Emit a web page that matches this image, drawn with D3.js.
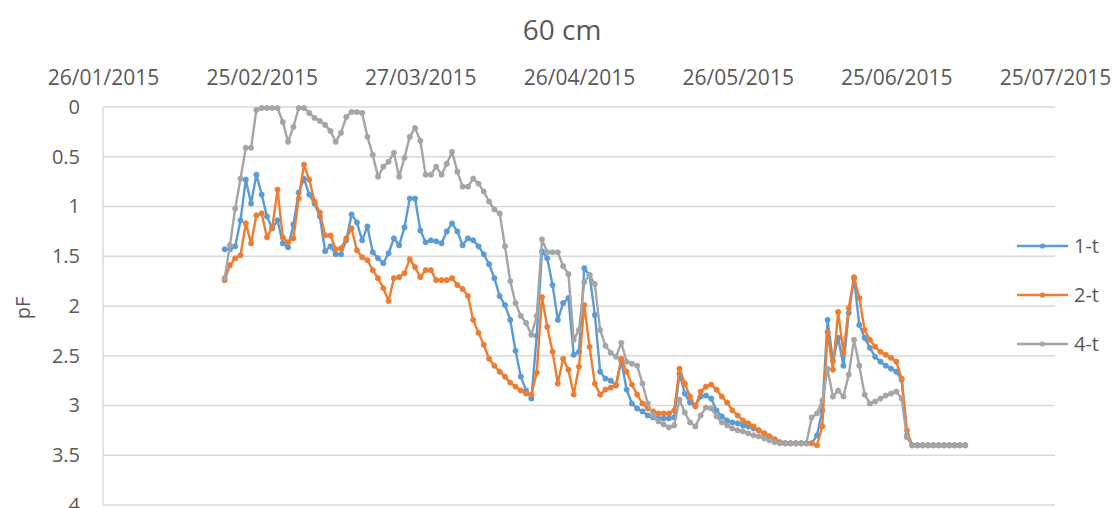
<!DOCTYPE html>
<html>
<head>
<meta charset="utf-8">
<script src="https://cdn.jsdelivr.net/npm/d3@7"></script>
<style>
  html, body { margin: 0; padding: 0; background: #ffffff; }
  svg { display: block; }
  text { font-family: "Open Sans", "Liberation Sans", sans-serif; fill: #595959; }
</style>
</head>
<body>
<svg id="chart" width="1118" height="508"></svg>
<script>
// pF readings at 60 cm depth, one reading per day from the first date below
const firstDay = "18/02/2015";

const series1t = [
  1.43, 1.43, 1.40, 1.14, 0.73, 0.97, 0.68, 0.88, 1.10, 1.22,
  1.14, 1.37, 1.41, 1.18, 0.86, 0.72, 0.88, 0.97, 1.10, 1.45,
  1.40, 1.48, 1.48, 1.34, 1.08, 1.16, 1.34, 1.20, 1.46, 1.52,
  1.57, 1.47, 1.32, 1.39, 1.21, 0.92, 0.92, 1.24, 1.36, 1.34,
  1.35, 1.37, 1.25, 1.17, 1.25, 1.39, 1.32, 1.34, 1.40, 1.48,
  1.58, 1.72, 1.90, 1.99, 2.14, 2.45, 2.71, 2.85, 2.93, 2.30,
  1.45, 1.52, 1.79, 2.14, 1.97, 1.92, 2.49, 2.46, 1.62, 1.69,
  2.09, 2.66, 2.73, 2.75, 2.80, 2.55, 2.84, 2.98, 3.03, 3.06,
  3.10, 3.12, 3.13, 3.13, 3.13, 3.12, 2.68, 2.88, 2.97, 3.00,
  2.91, 2.90, 2.93, 3.05, 3.11, 3.15, 3.17, 3.18, 3.20, 3.21,
  3.23, 3.25, 3.28, 3.31, 3.34, 3.37, 3.38, 3.38, 3.38, 3.38,
  3.38, 3.38, 3.30, 3.05, 2.14, 2.55, 2.32, 2.60, 2.07, 1.72,
  2.19, 2.32, 2.42, 2.51, 2.56, 2.60, 2.63, 2.66, 2.74, 3.30,
  3.40, 3.40, 3.40, 3.40, 3.40, 3.40, 3.40, 3.40, 3.40, 3.40,
  3.40
];

const series2t = [
  1.74, 1.59, 1.52, 1.49, 1.17, 1.37, 1.09, 1.07, 1.31, 1.21,
  0.83, 1.31, 1.36, 1.32, 0.92, 0.58, 0.73, 0.95, 1.06, 1.29,
  1.29, 1.43, 1.42, 1.32, 1.22, 1.44, 1.51, 1.54, 1.64, 1.72,
  1.82, 1.95, 1.72, 1.71, 1.67, 1.53, 1.61, 1.71, 1.64, 1.64,
  1.74, 1.74, 1.74, 1.72, 1.79, 1.83, 1.90, 2.14, 2.27, 2.39,
  2.53, 2.60, 2.66, 2.71, 2.77, 2.81, 2.85, 2.88, 2.89, 2.67,
  1.91, 2.21, 2.46, 2.78, 2.53, 2.64, 2.89, 2.61, 1.99, 2.41,
  2.78, 2.89, 2.84, 2.82, 2.79, 2.53, 2.66, 2.79, 2.89, 2.98,
  3.03, 3.06, 3.08, 3.08, 3.08, 3.05, 2.63, 2.78, 2.91, 3.01,
  2.86, 2.81, 2.79, 2.84, 2.91, 2.97, 3.05, 3.10, 3.15, 3.18,
  3.21, 3.25, 3.28, 3.31, 3.34, 3.37, 3.38, 3.38, 3.38, 3.38,
  3.38, 3.38, 3.40, 3.21, 2.26, 2.64, 2.06, 2.47, 2.02, 1.71,
  1.92, 2.24, 2.34, 2.41, 2.46, 2.49, 2.52, 2.56, 2.73, 3.25,
  3.40, 3.40, 3.40, 3.40, 3.40, 3.40, 3.40, 3.40, 3.40, 3.40,
  3.40
];

const series4t = [
  1.72, 1.39, 1.02, 0.72, 0.41, 0.41, 0.03, 0.01, 0.01, 0.01,
  0.01, 0.15, 0.35, 0.20, 0.01, 0.01, 0.06, 0.11, 0.14, 0.18,
  0.24, 0.35, 0.26, 0.10, 0.05, 0.05, 0.06, 0.30, 0.48, 0.70,
  0.60, 0.55, 0.46, 0.70, 0.51, 0.30, 0.21, 0.34, 0.68, 0.68,
  0.60, 0.68, 0.57, 0.45, 0.65, 0.80, 0.80, 0.72, 0.77, 0.85,
  0.95, 1.03, 1.07, 1.40, 1.75, 1.97, 2.10, 2.17, 2.29, 2.10,
  1.33, 1.46, 1.46, 1.46, 1.60, 1.68, 2.34, 2.24, 1.76, 1.69,
  1.78, 2.24, 2.40, 2.47, 2.51, 2.37, 2.56, 2.58, 2.60, 2.78,
  2.98, 3.10, 3.16, 3.19, 3.22, 3.20, 2.94, 3.07, 3.17, 3.21,
  3.10, 3.02, 3.03, 3.11, 3.17, 3.20, 3.23, 3.25, 3.26, 3.28,
  3.30, 3.31, 3.33, 3.35, 3.37, 3.38, 3.38, 3.38, 3.38, 3.38,
  3.38, 3.12, 3.08, 2.95, 2.63, 2.91, 2.85, 2.91, 2.69, 2.34,
  2.60, 2.89, 2.98, 2.96, 2.93, 2.90, 2.88, 2.86, 2.93, 3.32,
  3.40, 3.40, 3.40, 3.40, 3.40, 3.40, 3.40, 3.40, 3.40, 3.40,
  3.40
];

const seriesNames = ["1-t", "2-t", "4-t"];
const seriesColors = ["#5B9BD5", "#ED7D31", "#A5A5A5"];

const xTickLabels = ["26/01/2015", "25/02/2015", "27/03/2015", "26/04/2015",
                     "26/05/2015", "25/06/2015", "25/07/2015"];
const yTickValues = [0, 0.5, 1, 1.5, 2, 2.5, 3, 3.5, 4];

const titleText = "60 cm";
const yAxisTitle = "pF";

// ---- layout ----
const parseDate = d3.timeParse("%d/%m/%Y");
const fmtDate = d3.timeFormat("%d/%m/%Y");
const plot = { left: 103, right: 1055, top: 107, bottom: 505 };

const svg = d3.select("#chart");

const xTicks = xTickLabels.map(parseDate);
const x = d3.scaleTime()
  .domain([xTicks[0], xTicks[xTicks.length - 1]])
  .range([plot.left, plot.right]);

// pF axis runs downward: 0 at the top
const y = d3.scaleLinear()
  .domain([0, 4])
  .range([plot.top, plot.bottom]);

// horizontal gridlines
svg.append("g")
  .selectAll("line")
  .data(yTickValues)
  .join("line")
  .attr("x1", plot.left)
  .attr("x2", plot.right)
  .attr("y1", d => y(d))
  .attr("y2", d => y(d))
  .attr("stroke", "#d9d9d9")
  .attr("stroke-width", 1.3);

// vertical axis line
svg.append("line")
  .attr("x1", plot.left).attr("x2", plot.left)
  .attr("y1", plot.top).attr("y2", plot.bottom)
  .attr("stroke", "#d9d9d9")
  .attr("stroke-width", 1.3);

// date axis on top
const xAxis = svg.append("g")
  .attr("transform", `translate(0, ${plot.top - 22})`)
  .call(d3.axisTop(x).tickValues(xTicks).tickFormat(fmtDate).tickSize(0).tickPadding(0));
xAxis.select(".domain").remove();
xAxis.selectAll("text")
  .attr("font-size", 21)
  .attr("fill", "#595959")
  .attr("font-family", "Open Sans, sans-serif")
  .attr("dy", "0em");

// pF axis on the left
const yAxis = svg.append("g")
  .attr("transform", `translate(${plot.left}, 0)`)
  .call(d3.axisLeft(y).tickValues(yTickValues).tickFormat(d3.format("")).tickSize(0).tickPadding(23));
yAxis.select(".domain").remove();
yAxis.selectAll("text")
  .attr("font-size", 20)
  .attr("fill", "#595959")
  .attr("font-family", "Open Sans, sans-serif");

// titles
svg.append("text")
  .attr("x", 562)
  .attr("y", 40)
  .attr("text-anchor", "middle")
  .attr("font-size", 28)
  .text(titleText);

svg.append("text")
  .attr("transform", `translate(30, ${(plot.top + plot.bottom) / 2 + 2}) rotate(-90)`)
  .attr("text-anchor", "middle")
  .attr("font-size", 20)
  .text(yAxisTitle);

// series
const start = parseDate(firstDay);
const allSeries = [series1t, series2t, series4t].map((vals, k) => ({
  name: seriesNames[k],
  color: seriesColors[k],
  points: vals.map((v, i) => ({ date: d3.timeDay.offset(start, i), value: v }))
}));

const line = d3.line()
  .x(d => x(d.date))
  .y(d => y(d.value));

const seriesG = svg.append("g")
  .selectAll("g")
  .data(allSeries)
  .join("g");

seriesG.append("path")
  .attr("d", d => line(d.points))
  .attr("fill", "none")
  .attr("stroke", d => d.color)
  .attr("stroke-width", 2.4)
  .attr("stroke-linejoin", "round")
  .attr("stroke-linecap", "round");

seriesG.each(function (s) {
  d3.select(this).selectAll("circle")
    .data(s.points)
    .join("circle")
    .attr("cx", d => x(d.date))
    .attr("cy", d => y(d.value))
    .attr("r", 2.6)
    .attr("fill", s.color)
    .attr("stroke", s.color)
    .attr("stroke-width", 0.8);
});

// legend
const legend = svg.append("g")
  .selectAll("g")
  .data(allSeries)
  .join("g")
  .attr("transform", (d, i) => `translate(1017, ${246 + i * 49})`);

legend.append("line")
  .attr("x1", 0).attr("x2", 51)
  .attr("y1", 0).attr("y2", 0)
  .attr("stroke", d => d.color)
  .attr("stroke-width", 2.4);

legend.append("circle")
  .attr("cx", 25.5).attr("cy", 0).attr("r", 2.6)
  .attr("fill", d => d.color);

legend.append("text")
  .attr("x", 57)
  .attr("y", 0)
  .attr("dy", "0.35em")
  .attr("font-size", 20)
  .text(d => d.name);
</script>
</body>
</html>
